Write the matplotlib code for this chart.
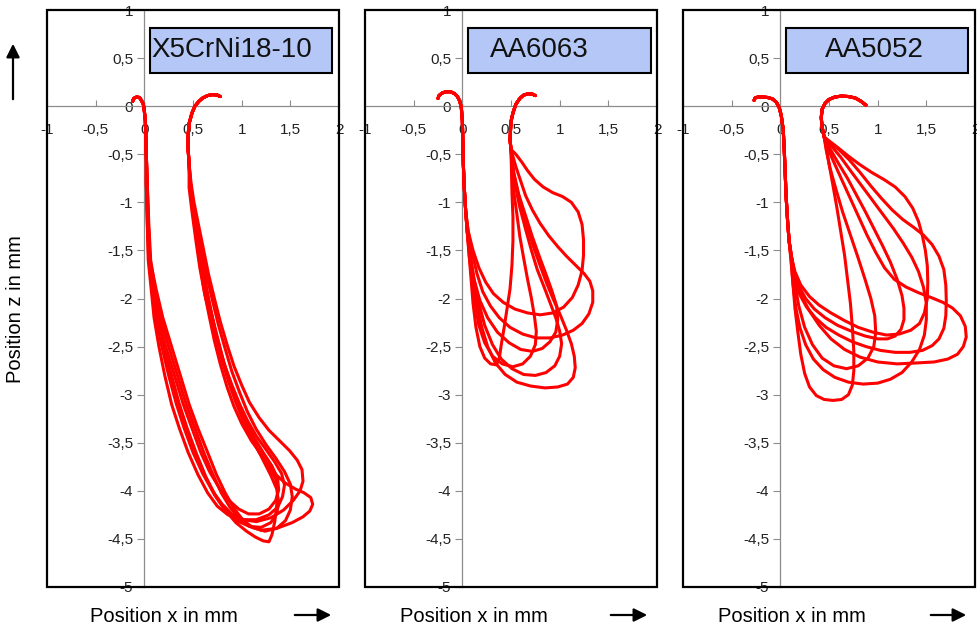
import matplotlib
matplotlib.use("Agg")
import matplotlib.pyplot as plt
from matplotlib.patches import Rectangle, FancyArrowPatch

plt.rcParams['font.family'] = ['Liberation Sans', 'DejaVu Sans']

materials = ["X5CrNi18-10", "AA6063", "AA5052"]
x_ticks = [-1, -0.5, 0, 0.5, 1, 1.5, 2]
x_tick_labels = ["-1", "-0,5", "0", "0,5", "1", "1,5", "2"]
z_ticks = [-5, -4.5, -4, -3.5, -3, -2.5, -2, -1.5, -1, -0.5, 0, 0.5, 1]
z_tick_labels = ["-5", "-4,5", "-4", "-3,5", "-3", "-2,5", "-2", "-1,5", "-1", "-0,5", "0", "0,5", "1"]

# X5CrNi18-10: shared start/end of every cycle, then the individual cycles (x, z in mm)
x5_top_left = [(-0.12, 0.05), (-0.11, 0.08), (-0.08, 0.095), (-0.05, 0.09), (-0.03, 0.06), (-0.01, 0.02), (0.0, -0.05),
               (0.01, -0.15), (0.015, -0.3), (0.02, -0.5)]
x5_top_right = [(0.46, -0.6), (0.45, -0.45), (0.45, -0.3), (0.46, -0.18), (0.49, -0.07), (0.52, 0.0), (0.56, 0.05),
                (0.6, 0.085), (0.65, 0.11), (0.7, 0.12), (0.75, 0.115), (0.78, 0.1)]
x5_cycle1 = [(0.03, -0.8), (0.035, -1.2), (0.05, -1.6), (0.09, -1.9), (0.13, -2.2), (0.2, -2.5), (0.28, -2.8),
             (0.36, -3.1), (0.44, -3.35), (0.53, -3.6), (0.63, -3.85), (0.73, -4.05), (0.83, -4.2), (0.94, -4.33),
             (1.05, -4.42), (1.14, -4.48), (1.22, -4.52), (1.28, -4.53), (1.31, -4.46), (1.34, -4.32), (1.36, -4.15),
             (1.37, -4.0), (1.35, -3.88), (1.29, -3.76), (1.2, -3.62), (1.1, -3.48), (1.0, -3.3), (0.92, -3.12),
             (0.85, -2.92), (0.78, -2.68), (0.72, -2.44), (0.67, -2.2), (0.62, -1.95), (0.58, -1.7), (0.55, -1.45),
             (0.52, -1.2), (0.49, -0.95), (0.47, -0.75)]
x5_cycle2 = [(0.03, -0.8), (0.045, -1.2), (0.065, -1.6), (0.11, -1.9), (0.17, -2.2), (0.25, -2.5), (0.34, -2.8),
             (0.43, -3.1), (0.52, -3.35), (0.61, -3.6), (0.7, -3.82), (0.79, -4.02), (0.88, -4.17), (0.98, -4.29),
             (1.08, -4.37), (1.2, -4.41), (1.36, -4.39), (1.52, -4.33), (1.63, -4.27), (1.7, -4.21), (1.73, -4.14),
             (1.71, -4.07), (1.64, -4.02), (1.55, -3.98), (1.45, -3.92), (1.36, -3.84), (1.27, -3.73), (1.18, -3.6),
             (1.1, -3.45), (1.02, -3.28), (0.94, -3.08), (0.87, -2.88), (0.8, -2.65), (0.74, -2.4), (0.69, -2.15),
             (0.64, -1.9), (0.6, -1.65), (0.56, -1.4), (0.52, -1.15), (0.49, -0.95), (0.47, -0.75)]
x5_cycle3 = [(0.02, -0.8), (0.03, -1.2), (0.045, -1.6), (0.08, -1.9), (0.12, -2.2), (0.18, -2.5), (0.25, -2.8),
             (0.33, -3.1), (0.41, -3.35), (0.5, -3.6), (0.6, -3.82), (0.7, -4.0), (0.8, -4.14), (0.9, -4.24),
             (1.02, -4.3), (1.15, -4.32), (1.3, -4.28), (1.43, -4.2), (1.53, -4.1), (1.6, -4.0), (1.63, -3.9),
             (1.62, -3.78), (1.57, -3.68), (1.49, -3.58), (1.39, -3.48), (1.28, -3.37), (1.18, -3.24), (1.08, -3.08),
             (1.0, -2.9), (0.92, -2.7), (0.85, -2.48), (0.78, -2.24), (0.72, -2.0), (0.66, -1.75), (0.61, -1.5),
             (0.56, -1.25), (0.51, -1.0), (0.48, -0.8)]
x5_cycle4 = [(0.03, -0.8), (0.04, -1.2), (0.06, -1.6), (0.12, -1.9), (0.19, -2.2), (0.28, -2.5), (0.37, -2.8),
             (0.46, -3.1), (0.55, -3.35), (0.65, -3.6), (0.74, -3.83), (0.83, -4.02), (0.92, -4.18), (1.01, -4.3),
             (1.11, -4.38), (1.24, -4.42), (1.36, -4.39), (1.45, -4.31), (1.5, -4.2), (1.52, -4.06), (1.5, -3.93),
             (1.44, -3.8), (1.35, -3.66), (1.25, -3.52), (1.15, -3.36), (1.06, -3.18), (0.98, -2.98), (0.9, -2.76),
             (0.83, -2.52), (0.76, -2.27), (0.7, -2.02), (0.64, -1.76), (0.59, -1.5), (0.54, -1.24), (0.5, -1.0),
             (0.47, -0.8)]
x5_cycle5 = [(0.02, -0.8), (0.03, -1.2), (0.04, -1.6), (0.07, -1.9), (0.1, -2.2), (0.15, -2.5), (0.21, -2.8),
             (0.28, -3.1), (0.36, -3.35), (0.45, -3.6), (0.55, -3.83), (0.65, -4.02), (0.75, -4.16), (0.86, -4.25),
             (1.0, -4.3), (1.15, -4.3), (1.28, -4.25), (1.37, -4.17), (1.42, -4.06), (1.44, -3.94), (1.41, -3.82),
             (1.34, -3.7), (1.25, -3.57), (1.15, -3.43), (1.06, -3.27), (0.98, -3.1), (0.9, -2.9), (0.82, -2.68),
             (0.75, -2.45), (0.68, -2.2), (0.62, -1.95), (0.57, -1.68), (0.53, -1.4), (0.49, -1.1), (0.46, -0.85)]
x5_cycle6 = [(0.03, -0.8), (0.04, -1.2), (0.055, -1.6), (0.1, -1.9), (0.15, -2.2), (0.22, -2.5), (0.31, -2.8),
             (0.4, -3.1), (0.49, -3.35), (0.58, -3.6), (0.67, -3.8), (0.77, -3.97), (0.87, -4.1), (0.97, -4.19),
             (1.07, -4.24), (1.18, -4.24), (1.28, -4.19), (1.35, -4.1), (1.38, -3.99), (1.37, -3.87), (1.31, -3.74),
             (1.22, -3.6), (1.13, -3.45), (1.04, -3.28), (0.96, -3.1), (0.89, -2.9), (0.82, -2.68), (0.76, -2.44),
             (0.7, -2.2), (0.64, -1.95), (0.59, -1.68), (0.54, -1.4), (0.5, -1.12), (0.47, -0.85)]
x5_cycle7 = [(0.02, -0.8), (0.035, -1.2), (0.05, -1.6), (0.085, -1.9), (0.125, -2.2), (0.19, -2.5), (0.26, -2.8),
             (0.345, -3.1), (0.43, -3.35), (0.52, -3.6), (0.62, -3.84), (0.72, -4.04), (0.83, -4.2), (0.95, -4.31),
             (1.08, -4.37), (1.2, -4.38), (1.3, -4.33), (1.36, -4.24), (1.38, -4.12), (1.36, -3.98), (1.3, -3.84),
             (1.22, -3.68), (1.13, -3.5), (1.04, -3.3), (0.96, -3.1), (0.88, -2.88), (0.81, -2.64), (0.74, -2.38),
             (0.68, -2.12), (0.63, -1.86), (0.58, -1.6), (0.54, -1.34), (0.5, -1.08), (0.47, -0.85)]

# AA6063
aa6063_top_left = [(-0.25, 0.08), (-0.24, 0.11), (-0.21, 0.135), (-0.17, 0.15), (-0.12, 0.15), (-0.08, 0.13), (-0.05, 0.1),
                   (-0.025, 0.05), (-0.01, -0.02), (0.0, -0.15), (0.005, -0.35), (0.01, -0.6), (0.02, -0.85),
                   (0.035, -1.1)]
aa6063_top_right = [(0.5, -0.45), (0.49, -0.35), (0.495, -0.25), (0.5, -0.16), (0.52, -0.07), (0.55, 0.02), (0.59, 0.08),
                    (0.63, 0.115), (0.68, 0.13), (0.72, 0.125), (0.75, 0.11)]
aa6063_cycle1 = [(0.05, -1.3), (0.07, -1.55), (0.09, -1.8), (0.11, -2.05), (0.14, -2.3), (0.18, -2.5), (0.23, -2.62),
                 (0.29, -2.68), (0.35, -2.69), (0.38, -2.62), (0.4, -2.48), (0.43, -2.3), (0.46, -2.1), (0.49, -1.9),
                 (0.51, -1.65), (0.52, -1.4), (0.52, -1.15), (0.51, -0.9), (0.505, -0.68)]
aa6063_cycle2 = [(0.05, -1.3), (0.08, -1.55), (0.11, -1.8), (0.15, -2.05), (0.2, -2.3), (0.26, -2.5), (0.34, -2.67),
                 (0.44, -2.79), (0.56, -2.87), (0.7, -2.91), (0.85, -2.93), (0.98, -2.92), (1.08, -2.89), (1.14, -2.82),
                 (1.16, -2.72), (1.15, -2.6), (1.12, -2.47), (1.07, -2.33), (1.01, -2.18), (0.94, -2.02), (0.87, -1.85),
                 (0.8, -1.66), (0.73, -1.46), (0.67, -1.26), (0.61, -1.06), (0.56, -0.85), (0.52, -0.66)]
aa6063_cycle3 = [(0.05, -1.3), (0.08, -1.55), (0.12, -1.8), (0.17, -2.05), (0.23, -2.28), (0.31, -2.48), (0.4, -2.63),
                 (0.51, -2.73), (0.63, -2.79), (0.75, -2.8), (0.86, -2.77), (0.95, -2.7), (1.0, -2.6), (1.02, -2.47),
                 (1.0, -2.34), (0.96, -2.2), (0.9, -2.04), (0.84, -1.88), (0.77, -1.7), (0.71, -1.5), (0.65, -1.28),
                 (0.59, -1.05), (0.55, -0.85), (0.52, -0.66)]
aa6063_cycle4 = [(0.05, -1.3), (0.08, -1.55), (0.12, -1.8), (0.18, -2.02), (0.26, -2.2), (0.36, -2.35), (0.48, -2.46),
                 (0.6, -2.53), (0.72, -2.55), (0.82, -2.52), (0.9, -2.45), (0.96, -2.35), (0.98, -2.22), (0.97, -2.08),
                 (0.92, -1.92), (0.86, -1.75), (0.79, -1.56), (0.72, -1.36), (0.65, -1.14), (0.58, -0.92),
                 (0.53, -0.7)]
aa6063_cycle5 = [(0.06, -1.3), (0.1, -1.52), (0.15, -1.74), (0.21, -1.93), (0.29, -2.08), (0.38, -2.2), (0.49, -2.3),
                 (0.62, -2.37), (0.76, -2.41), (0.9, -2.41), (1.03, -2.38), (1.14, -2.33), (1.23, -2.26), (1.3, -2.16),
                 (1.34, -2.04), (1.34, -1.92), (1.31, -1.82), (1.25, -1.74), (1.16, -1.65), (1.07, -1.56),
                 (0.98, -1.46), (0.89, -1.35), (0.8, -1.22), (0.72, -1.08), (0.65, -0.93), (0.6, -0.78), (0.55, -0.63)]
aa6063_cycle6 = [(0.06, -1.3), (0.11, -1.5), (0.17, -1.68), (0.24, -1.83), (0.32, -1.95), (0.42, -2.04), (0.54, -2.11),
                 (0.67, -2.15), (0.8, -2.17), (0.93, -2.15), (1.04, -2.09), (1.13, -1.99), (1.19, -1.86), (1.23, -1.71),
                 (1.245, -1.55), (1.245, -1.39), (1.23, -1.23), (1.19, -1.1), (1.12, -1.0), (1.03, -0.94), (0.93, -0.9),
                 (0.83, -0.84), (0.74, -0.76), (0.67, -0.67), (0.61, -0.58), (0.55, -0.5)]
aa6063_cycle7 = [(0.05, -1.3), (0.07, -1.55), (0.1, -1.8), (0.13, -2.05), (0.17, -2.28), (0.23, -2.46), (0.31, -2.6),
                 (0.41, -2.68), (0.52, -2.71), (0.62, -2.68), (0.7, -2.6), (0.75, -2.48), (0.76, -2.34), (0.74, -2.18),
                 (0.71, -2.0), (0.67, -1.8), (0.63, -1.58), (0.59, -1.35), (0.56, -1.12), (0.53, -0.9), (0.51, -0.68)]

# AA5052
aa5052_top_left = [(-0.27, 0.06), (-0.26, 0.085), (-0.23, 0.095), (-0.18, 0.095), (-0.13, 0.09), (-0.08, 0.075),
                   (-0.04, 0.04), (-0.01, -0.02), (0.01, -0.1), (0.03, -0.25), (0.04, -0.45), (0.05, -0.7),
                   (0.06, -0.95), (0.075, -1.2), (0.09, -1.4)]
aa5052_top_right = [(0.45, -0.32), (0.43, -0.22), (0.42, -0.12), (0.43, -0.03), (0.46, 0.03), (0.5, 0.07), (0.56, 0.095),
                    (0.63, 0.105), (0.7, 0.1), (0.77, 0.085), (0.83, 0.05), (0.88, 0.01)]
aa5052_cycle1 = [(0.11, -1.6), (0.13, -1.85), (0.15, -2.1), (0.18, -2.35), (0.21, -2.58), (0.25, -2.78), (0.3, -2.92),
                 (0.37, -3.01), (0.45, -3.05), (0.54, -3.06), (0.63, -3.05), (0.7, -3.0), (0.74, -2.9), (0.755, -2.75),
                 (0.755, -2.55), (0.74, -2.3), (0.72, -2.05), (0.69, -1.8), (0.66, -1.55), (0.62, -1.3), (0.58, -1.05),
                 (0.54, -0.82), (0.5, -0.6), (0.47, -0.42)]
aa5052_cycle2 = [(0.12, -1.6), (0.16, -1.8), (0.22, -1.98), (0.3, -2.13), (0.4, -2.28), (0.52, -2.42), (0.66, -2.53),
                 (0.82, -2.61), (1.0, -2.66), (1.2, -2.68), (1.4, -2.67), (1.58, -2.66), (1.72, -2.63), (1.82, -2.58),
                 (1.88, -2.5), (1.91, -2.4), (1.9, -2.29), (1.85, -2.18), (1.77, -2.1), (1.67, -2.04), (1.55, -1.99),
                 (1.42, -1.94), (1.29, -1.88), (1.17, -1.8), (1.07, -1.68), (0.98, -1.52), (0.89, -1.34), (0.8, -1.14),
                 (0.71, -0.94), (0.62, -0.74), (0.54, -0.56), (0.48, -0.42)]
aa5052_cycle3 = [(0.11, -1.55), (0.15, -1.72), (0.21, -1.86), (0.3, -1.98), (0.4, -2.07), (0.52, -2.15), (0.66, -2.23),
                 (0.8, -2.3), (0.95, -2.35), (1.09, -2.38), (1.22, -2.37), (1.34, -2.33), (1.43, -2.26), (1.48, -2.15),
                 (1.51, -2.0), (1.515, -1.83), (1.51, -1.66), (1.49, -1.5), (1.46, -1.35), (1.42, -1.2), (1.36, -1.06),
                 (1.28, -0.94), (1.18, -0.84), (1.06, -0.76), (0.94, -0.69), (0.82, -0.61), (0.7, -0.52),
                 (0.59, -0.43), (0.5, -0.36)]
aa5052_cycle4 = [(0.12, -1.6), (0.15, -1.8), (0.2, -1.96), (0.27, -2.09), (0.36, -2.2), (0.47, -2.3), (0.6, -2.38),
                 (0.74, -2.45), (0.88, -2.5), (1.03, -2.54), (1.18, -2.56), (1.33, -2.56), (1.46, -2.54), (1.56, -2.49),
                 (1.63, -2.42), (1.68, -2.31), (1.7, -2.18), (1.705, -2.02), (1.7, -1.86), (1.68, -1.7), (1.63, -1.56),
                 (1.56, -1.44), (1.47, -1.34), (1.37, -1.26), (1.26, -1.18), (1.15, -1.08), (1.04, -0.96),
                 (0.93, -0.83), (0.82, -0.69), (0.71, -0.56), (0.6, -0.45), (0.5, -0.37)]
aa5052_cycle5 = [(0.11, -1.6), (0.13, -1.85), (0.16, -2.1), (0.2, -2.3), (0.26, -2.48), (0.34, -2.63), (0.44, -2.74),
                 (0.56, -2.82), (0.7, -2.87), (0.85, -2.89), (1.0, -2.88), (1.13, -2.84), (1.25, -2.77), (1.35, -2.66),
                 (1.43, -2.53), (1.48, -2.38), (1.5, -2.22), (1.5, -2.05), (1.47, -1.88), (1.42, -1.72), (1.35, -1.57),
                 (1.26, -1.42), (1.16, -1.27), (1.05, -1.12), (0.94, -0.97), (0.83, -0.82), (0.72, -0.67),
                 (0.62, -0.53), (0.53, -0.42)]
aa5052_cycle6 = [(0.11, -1.55), (0.14, -1.72), (0.19, -1.87), (0.26, -2.0), (0.35, -2.11), (0.46, -2.2), (0.59, -2.28),
                 (0.73, -2.34), (0.87, -2.39), (1.0, -2.42), (1.1, -2.42), (1.18, -2.39), (1.24, -2.32), (1.27, -2.22),
                 (1.27, -2.1), (1.25, -1.97), (1.2, -1.8), (1.13, -1.62), (1.05, -1.45), (0.96, -1.27), (0.87, -1.09),
                 (0.78, -0.92), (0.69, -0.75), (0.6, -0.6), (0.52, -0.46)]
aa5052_cycle7 = [(0.12, -1.6), (0.15, -1.85), (0.19, -2.08), (0.25, -2.3), (0.33, -2.48), (0.43, -2.62), (0.55, -2.7),
                 (0.68, -2.73), (0.8, -2.7), (0.9, -2.62), (0.96, -2.5), (0.98, -2.35), (0.97, -2.18), (0.93, -2.0),
                 (0.87, -1.8), (0.8, -1.58), (0.72, -1.34), (0.64, -1.1), (0.57, -0.86), (0.51, -0.64), (0.47, -0.45)]

panels = [
    (materials[0], x5_top_left, x5_top_right,
     [x5_cycle1, x5_cycle2, x5_cycle3, x5_cycle4, x5_cycle5, x5_cycle6, x5_cycle7]),
    (materials[1], aa6063_top_left, aa6063_top_right,
     [aa6063_cycle1, aa6063_cycle2, aa6063_cycle3, aa6063_cycle4, aa6063_cycle5, aa6063_cycle6, aa6063_cycle7]),
    (materials[2], aa5052_top_left, aa5052_top_right,
     [aa5052_cycle1, aa5052_cycle2, aa5052_cycle3, aa5052_cycle4, aa5052_cycle5, aa5052_cycle6, aa5052_cycle7]),
]

W, H = 977, 629
fig = plt.figure(figsize=(W / 100, H / 100), dpi=100)

lefts = [47, 365, 683]
box_x = [(0.055, 1.925), (0.062, 1.94), (0.062, 1.93)]
label_x = [(0.075, 'left'), (0.79, 'center'), (0.966, 'center')]
xlabel_pos = [164, 474, 792]
arrow_x = [(292, 334), (608, 650), (928, 969)]

for i, (name, top_left, top_right, cycles) in enumerate(panels):
    ax = fig.add_axes([lefts[i] / W, (H - 587) / H, 292 / W, 577 / H])
    ax.set_xlim(-1, 2)
    ax.set_ylim(-5, 1)

    for cyc in cycles:
        pts = top_left + cyc + top_right
        xs = [p[0] for p in pts]
        zs = [p[1] for p in pts]
        ax.plot(xs, zs, color='#ff0000', lw=2.2, solid_joinstyle='round', solid_capstyle='round', zorder=3)

    ax.spines['top'].set_visible(False)
    ax.spines['right'].set_visible(False)
    ax.spines['left'].set_position(('data', 0))
    ax.spines['bottom'].set_position(('data', 0))
    for s in ['left', 'bottom']:
        ax.spines[s].set_color('#8c8c8c')
        ax.spines[s].set_linewidth(0.9)
    ax.add_patch(Rectangle((0, 0), 1, 1, transform=ax.transAxes, fill=False, ec='black', lw=1.6,
                           zorder=5, clip_on=False))

    ax.set_xticks(x_ticks)
    ax.set_xticklabels(x_tick_labels)
    ax.set_yticks(z_ticks)
    ax.set_yticklabels(z_tick_labels)
    ax.tick_params(axis='x', direction='in', length=4, color='#8c8c8c', pad=12, labelsize=11, labelcolor='#222222')
    ax.tick_params(axis='y', direction='out', length=5, color='#8c8c8c', pad=3, labelsize=11, labelcolor='#222222')

    x0, x1 = box_x[i]
    ax.add_patch(Rectangle((x0, 0.343), x1 - x0, 0.467, facecolor='#b4c7f7', edgecolor='black', lw=1.5, zorder=6))
    ax.text(label_x[i][0], 0.58, name, ha=label_x[i][1], va='center', fontsize=20, color='#111111', zorder=7)

    fig.text(xlabel_pos[i] / W, 1 - 616 / H, "Position x in mm", ha='center', va='center', fontsize=14.5)
    a0, a1 = arrow_x[i]
    fig.add_artist(FancyArrowPatch((a0 / W, 1 - 615 / H), (a1 / W, 1 - 615 / H), transform=fig.transFigure,
                                   arrowstyle='-|>', mutation_scale=20, lw=1.6, color='black'))

fig.text(16 / W, 1 - 309 / H, "Position z in mm", rotation=90, ha='center', va='center', fontsize=14.5)
fig.add_artist(FancyArrowPatch((13 / W, 1 - 102 / H), (13 / W, 1 - 41 / H), transform=fig.transFigure,
                               arrowstyle='-|>', mutation_scale=20, lw=1.6, color='black'))

fig.savefig("out.png", dpi=100)
